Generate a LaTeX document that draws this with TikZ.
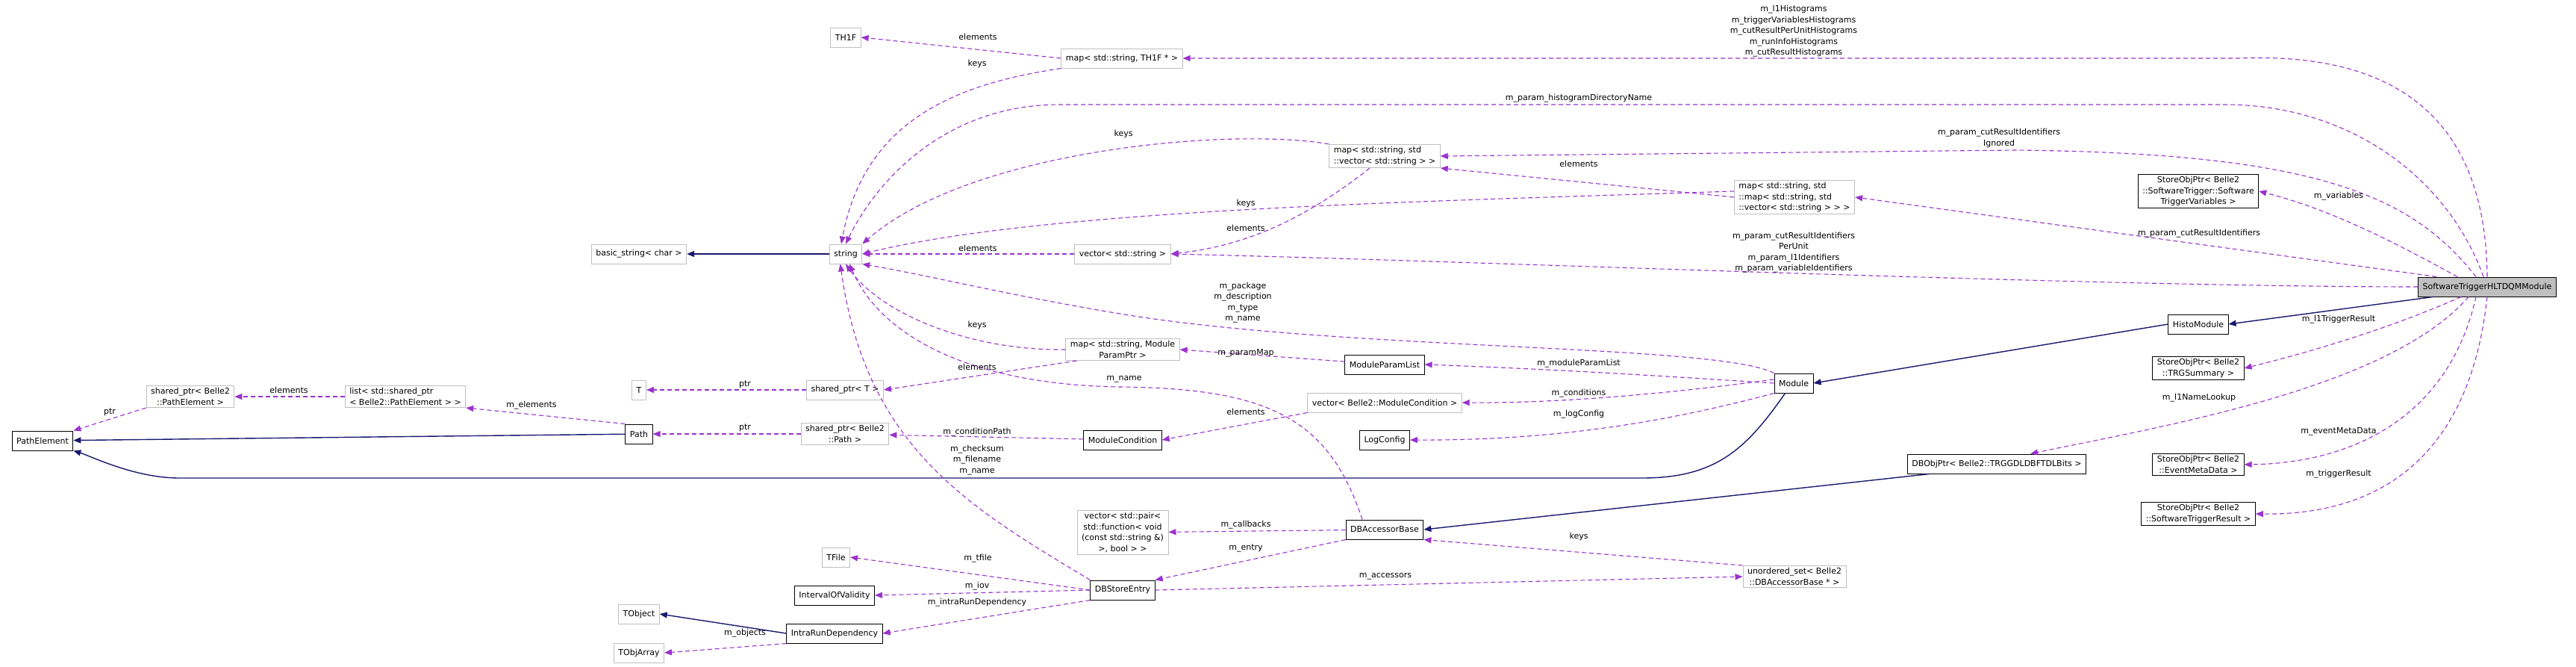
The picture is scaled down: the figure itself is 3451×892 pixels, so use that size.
\documentclass[tikz,border=0pt]{standalone}
\usepackage{fontspec}
\setmainfont{DejaVu Sans}
\usetikzlibrary{arrows.meta}
\definecolor{usecol}{RGB}{154,50,205}
\definecolor{inhcol}{RGB}{25,25,112}
\definecolor{extcol}{RGB}{191,191,191}

\begin{document}
\begin{tikzpicture}[x=1pt,y=-1pt,
  font=\fontsize{11}{14.5}\selectfont,
  cls/.style = {draw=black,line width=1pt,fill=white,inner xsep=6pt,inner ysep=3pt,minimum height=26pt,align=center},
  ext/.style = {draw=extcol,line width=1pt,fill=white,inner xsep=6pt,inner ysep=3pt,minimum height=26pt,align=center},
  uses/.style = {usecol,dashed,line width=1.1pt,dash pattern=on 6pt off 4pt,-{Triangle[length=10pt,width=8pt]}},
  inh/.style = {inhcol,line width=1.4pt,-{Triangle[length=10pt,width=8pt]}},
  lbl/.style = {inner sep=0pt,align=center}]
  \useasboundingbox (0,0) rectangle (3451,892);

% classes
\node[cls,fill=extcol] (dqm) at (3332,384) {SoftwareTriggerHLTDQMModule};
\node[cls] (histo) at (2945,434) {HistoModule};
\node[cls] (module) at (2403,513) {Module};
\node[cls] (vars) at (2945,256) {StoreObjPtr< Belle2\\::SoftwareTrigger::Software\\TriggerVariables >};
\node[cls] (trgsum) at (2945,493) {StoreObjPtr< Belle2\\::TRGSummary >};
\node[cls] (dbobj) at (2675,621) {DBObjPtr< Belle2::TRGGDLDBFTDLBits >};
\node[cls] (evtmeta) at (2945,622) {StoreObjPtr< Belle2\\::EventMetaData >};
\node[cls] (trgres) at (2945,688) {StoreObjPtr< Belle2\\::SoftwareTriggerResult >};
\node[ext,align=left] (mapmap) at (2404,264) {map< std::string, std\\::map< std::string, std\\::vector< std::string > > >};
\node[ext] (uset) at (2404,772) {unordered\_set< Belle2\\::DBAccessorBase * >};
\node[ext,align=left] (mapvec) at (1855,209) {map< std::string, std\\::vector< std::string > >};
\node[cls] (mplist) at (1855,488) {ModuleParamList};
\node[ext] (veccond) at (1855,539) {vector< Belle2::ModuleCondition >};
\node[cls] (logcfg) at (1855,589) {LogConfig};
\node[cls] (dbacc) at (1855,709) {DBAccessorBase};
\node[ext] (maptf) at (1503,78) {map< std::string, TH1F * >};
\node[ext] (vecstr) at (1504,340) {vector< std::string >};
\node[ext] (mapmp) at (1504,468) {map< std::string, Module\\ParamPtr >};
\node[cls] (modcond) at (1504,589) {ModuleCondition};
\node[ext] (vecpair) at (1504,713) {vector< std::pair<\\std::function< void\\(const std::string \&)\\>, bool > >};
\node[cls] (dbentry) at (1504,790) {DBStoreEntry};
\node[ext] (th1f) at (1133,50) {TH1F};
\node[ext] (string) at (1133,340) {string};
\node[ext] (sharedt) at (1132,522) {shared\_ptr< T >};
\node[ext] (sharedpath) at (1132,581) {shared\_ptr< Belle2\\::Path >};
\node[ext] (tfile) at (1120,746) {TFile};
\node[cls] (iov) at (1118,797) {IntervalOfValidity};
\node[cls] (intra) at (1118,848) {IntraRunDependency};
\node[ext] (basic) at (856,340) {basic\_string< char >};
\node[ext] (t) at (856,522) {T};
\node[cls] (path) at (856,581) {Path};
\node[ext] (tobject) at (856,822) {TObject};
\node[ext] (tobjarr) at (856,874) {TObjArray};
\node[ext,align=left] (list) at (543,531) {list< std::shared\_ptr\\< Belle2::PathElement > >};
\node[ext] (sharedpe) at (255,531) {shared\_ptr< Belle2\\::PathElement >};
\node[cls] (pathel) at (57,590) {PathElement};

% inheritance
\draw[inh] ([xshift=20pt]dqm.south west) -- (histo.east);
\draw[inh] (histo.west) -- (module.east);
\draw[inh] (string) -- (basic);
\draw[inh] (path) -- (pathel);
\draw[inh] ([xshift=15pt]module.south west) .. controls (2340,600) and (2300,640) .. (2200,640) -- (240,640) .. controls (180,640) and (120,610) .. (pathel.south east);
\draw[inh] ([xshift=30pt]dbobj.south west) -- (dbacc.east);
\draw[inh] (intra.west) -- (tobject.east);

% members of SoftwareTriggerHLTDQMModule
\draw[uses] (dqm.north) .. controls (3330,150) and (3200,70) .. (3000,78) -- (maptf.east);
\draw[uses] ([xshift=-5pt]dqm.north) .. controls (3280,240) and (3150,140) .. (2980,140) -- (1420,140) .. controls (1260,140) and (1170,250) .. (string.north);
\draw[uses] ([xshift=-15pt]dqm.north) .. controls (3230,260) and (3100,205) .. (2700,201) -- (mapvec.east);
\draw[uses] ([xshift=25pt]dqm.north west) -- (mapmap.east);
\draw[uses] (dqm.west) .. controls (2800,384) and (2000,350) .. (vecstr.east);
\draw[uses] ([xshift=-40pt]dqm.north) .. controls (3200,320) and (3120,280) .. (vars.east);
\draw[uses] ([xshift=-35pt]dqm.south) .. controls (3200,440) and (3100,470) .. (trgsum.east);
\draw[uses] ([xshift=-25pt]dqm.south) .. controls (3200,520) and (2900,570) .. ([xshift=-75pt]dbobj.north east);
\draw[uses] ([xshift=-15pt]dqm.south) .. controls (3280,560) and (3150,620) .. (evtmeta.east);
\draw[uses] (dqm.south) .. controls (3310,600) and (3200,690) .. (trgres.east);

% other members
\draw[uses] (maptf.west) -- (th1f.east);
\draw[uses] (maptf.south west) .. controls (1300,110) and (1160,150) .. ([xshift=-6pt]string.north);
\draw[uses] (mapvec.north west) .. controls (1650,170) and (1300,200) .. (string.north east);
\draw[uses] ([xshift=-20pt]mapvec.south) .. controls (1740,300) and (1660,330) .. (vecstr.east);
\draw[uses] (mapmap.west) -- (mapvec.south east);
\draw[uses] ([yshift=8pt]mapmap.west) .. controls (1900,270) and (1400,280) .. (string.east);
\draw[uses] (vecstr) -- (string);
\draw[uses] (module.north west) .. controls (2300,460) and (1800,470) .. (1500,420) .. controls (1350,395) and (1250,370) .. (string.south east);
\draw[uses] (mapmp.west) .. controls (1300,470) and (1180,420) .. (string.south);
\draw[uses] ([xshift=15pt]mapmp.south west) -- (sharedt.east);
\draw[uses] ([xshift=-30pt]dbacc.north) .. controls (1780,560) and (1700,520) .. (1500,518) .. controls (1300,515) and (1180,450) .. ([xshift=5pt]string.south);
\draw[uses] (dbentry.north west) .. controls (1300,680) and (1160,600) .. ([xshift=15pt]string.south west);
\draw[uses] (sharedt) -- (t);
\draw[uses] (sharedpath) -- (path);
\draw[uses] (path.north west) -- (list.south east);
\draw[uses] (list) -- (sharedpe);
\draw[uses] (sharedpe.south west) -- (pathel.north east);
\draw[uses] (modcond) -- (sharedpath);
\draw[uses] (mplist) -- (mapmp.east);
\draw[uses] (module.west) .. controls (2250,505) and (2100,495) .. (mplist.east);
\draw[uses] ([yshift=5pt]module.west) .. controls (2250,525) and (2100,540) .. (veccond.east);
\draw[uses] (module.south west) .. controls (2250,560) and (2100,590) .. (logcfg.east);
\draw[uses] (veccond.south west) -- (modcond.east);
\draw[uses] (dbacc) -- (vecpair);
\draw[uses] (dbacc.south west) -- (dbentry.north east);
\draw[uses] (dbentry.west) -- (tfile.east);
\draw[uses] (dbentry.west) -- (iov.east);
\draw[uses] (dbentry.south west) -- (intra.east);
\draw[uses] (dbentry.east) -- (uset.west);
\draw[uses] (uset.north west) -- (dbacc.south east);
\draw[uses] (intra.south west) -- (tobjarr.east);

% labels
\node[lbl] (l1) at (2403,42) {m\_l1Histograms\\m\_triggerVariablesHistograms\\m\_cutResultPerUnitHistograms\\m\_runInfoHistograms\\m\_cutResultHistograms};
\node[lbl] (l2) at (2115,132) {m\_param\_histogramDirectoryName};
\node[lbl] (l3) at (2678,185) {m\_param\_cutResultIdentifiers\\Ignored};
\node[lbl] (l4) at (3133,263) {m\_variables};
\node[lbl] (l5) at (2946,313) {m\_param\_cutResultIdentifiers};
\node[lbl] (l6) at (2403,338) {m\_param\_cutResultIdentifiers\\PerUnit\\m\_param\_l1Identifiers\\m\_param\_variableIdentifiers};
\node[lbl] (l7) at (3133,428) {m\_l1TriggerResult};
\node[lbl] (l8) at (2946,533) {m\_l1NameLookup};
\node[lbl] (l9) at (3133,578) {m\_eventMetaData};
\node[lbl] (l10) at (3133,635) {m\_triggerResult};
\node[lbl] (l11) at (1310,49) {elements};
\node[lbl] (l12) at (1309,85) {keys};
\node[lbl] (l13) at (1505,179) {keys};
\node[lbl] (l14) at (2115,219) {elements};
\node[lbl] (l15) at (1669,272) {keys};
\node[lbl] (l16) at (1669,305) {elements};
\node[lbl] (l17) at (1310,332) {elements};
\node[lbl] (l18) at (1665,405) {m\_package\\m\_description\\m\_type\\m\_name};
\node[lbl] (l19) at (1309,435) {keys};
\node[lbl] (l20) at (1669,473) {m\_paramMap};
\node[lbl] (l21) at (2115,487) {m\_moduleParamList};
\node[lbl] (l22) at (1309,491) {elements};
\node[lbl] (l23) at (1506,508) {m\_name};
\node[lbl] (l24) at (2115,527) {m\_conditions};
\node[lbl] (l25) at (1669,551) {elements};
\node[lbl] (l26) at (2115,555) {m\_logConfig};
\node[lbl] (l27) at (1309,579) {m\_conditionPath};
\node[lbl] (l28) at (1309,616) {m\_checksum\\m\_filename\\m\_name};
\node[lbl] (l29) at (1669,703) {m\_callbacks};
\node[lbl] (l30) at (2115,718) {keys};
\node[lbl] (l31) at (1669,734) {m\_entry};
\node[lbl] (l32) at (1310,748) {m\_tfile};
\node[lbl] (l33) at (1856,772) {m\_accessors};
\node[lbl] (l34) at (1309,785) {m\_iov};
\node[lbl] (l35) at (1309,807) {m\_intraRunDependency};
\node[lbl] (l36) at (998,848) {m\_objects};
\node[lbl] (l37) at (147,552) {ptr};
\node[lbl] (l38) at (387,522) {elements};
\node[lbl] (l39) at (712,543) {m\_elements};
\node[lbl] (l40) at (998,515) {ptr};
\node[lbl] (l41) at (998,573) {ptr};
\end{tikzpicture}
\end{document}
